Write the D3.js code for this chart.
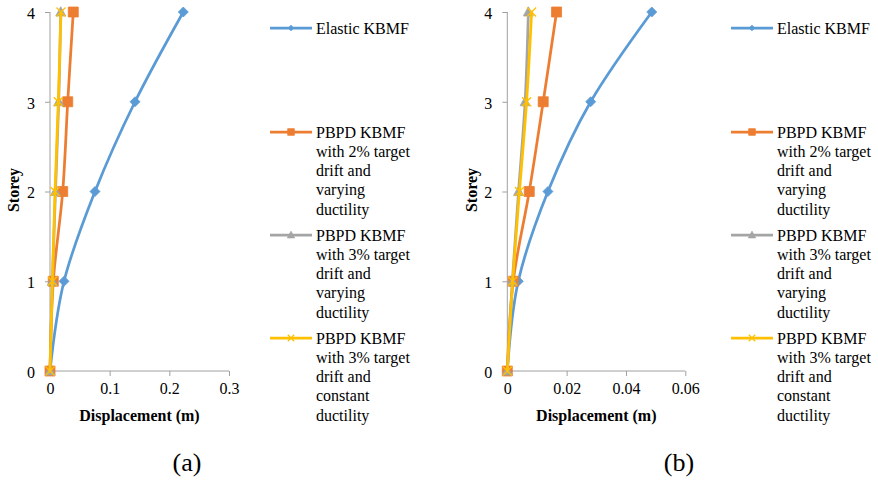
<!DOCTYPE html>
<html>
<head>
<meta charset="utf-8">
<script src="https://cdn.jsdelivr.net/npm/d3@7/dist/d3.min.js"></script>
<style>
  html, body { margin: 0; padding: 0; background: #fff; }
  svg { display: block; }
  svg text { font-family: "Liberation Serif", "Times New Roman", serif !important; fill: #000; }
</style>
</head>
<body>
<svg id="chart" width="878" height="481"></svg>
<script>
// ---- Data ----
const storeys = [0, 1, 2, 3, 4];
const seriesNames = [
  ["Elastic KBMF"],
  ["PBPD KBMF", "with 2% target", "drift and", "varying", "ductility"],
  ["PBPD KBMF", "with 3% target", "drift and", "varying", "ductility"],
  ["PBPD KBMF", "with 3% target", "drift and", "constant", "ductility"]
];
// Panel (a)
const aElastic    = [0, 0.0235, 0.0754, 0.1425, 0.2234];
const aPbpd2Var   = [0, 0.0055, 0.0213, 0.0297, 0.0390];
const aPbpd3Var   = [0, 0.0040, 0.0092, 0.0146, 0.0180];
const aPbpd3Const = [0, 0.0040, 0.0084, 0.0139, 0.0184];
const aXTicks = [0, 0.1, 0.2, 0.3];
// Panel (b)
const bElastic    = [0, 0.0037, 0.0137, 0.0281, 0.0487];
const bPbpd2Var   = [0, 0.0020, 0.0074, 0.0121, 0.0166];
const bPbpd3Var   = [0, 0.0017, 0.0038, 0.0060, 0.0071];
const bPbpd3Const = [0, 0.0018, 0.0041, 0.0065, 0.0082];
const bXTicks = [0, 0.02, 0.04, 0.06];
const yTicks = [0, 1, 2, 3, 4];

const colors = ["#5B9BD5", "#ED7D31", "#A5A5A5", "#FFC000"];
const markers = ["diamond", "square", "triangle", "cross"];

// ---- Layout ----
const FONT = "'Liberation Serif', 'Times New Roman', serif";
const panels = [
  { label: "(a)", data: [aElastic, aPbpd2Var, aPbpd3Var, aPbpd3Const], xTicks: aXTicks,
    x0: 50, x1: 229, legendX: 270, labelX: 187, storeyX: 19 },
  { label: "(b)", data: [bElastic, bPbpd2Var, bPbpd3Var, bPbpd3Const], xTicks: bXTicks,
    x0: 507.3, x1: 685.3, legendX: 731, labelX: 679, storeyX: 477 }
];
const yTop = 12, yBot = 371;
const axisColor = "#A0A0A0";

const svg = d3.select("#chart");
svg.append("rect").attr("width", 878).attr("height", 481).attr("fill", "#fff");

function markerPath(type, s) {
  switch (type) {
    case "diamond": return `M0,${-s}L${s},0L0,${s}L${-s},0Z`;
    case "square": return `M${-s},${-s}H${s}V${s}H${-s}Z`;
    case "triangle": return `M0,${-s * 1.05}L${s},${s * 0.8}L${-s},${s * 0.8}Z`;
    case "cross": return `M${-s},${-s}L${s},${s}M${s},${-s}L${-s},${s}`;
  }
}

function drawMarker(g, type, color, x, y, s) {
  const p = g.append("path").attr("d", markerPath(type, s))
    .attr("transform", `translate(${x},${y})`);
  if (type === "cross") {
    p.attr("fill", "none").attr("stroke", color).attr("stroke-width", 1.3);
  } else {
    p.attr("fill", color).attr("stroke", color).attr("stroke-width", 0.8);
  }
}

panels.forEach(P => {
  const x = d3.scaleLinear().domain([P.xTicks[0], P.xTicks[P.xTicks.length - 1]]).range([P.x0, P.x1]);
  const y = d3.scaleLinear().domain([0, 4]).range([yBot, yTop]);
  const g = svg.append("g");

  // axes
  const xAxis = d3.axisBottom(x).tickValues(P.xTicks).tickSize(5).tickPadding(7)
    .tickFormat(d => d === 0 ? "0" : String(+d.toFixed(4)));
  const gx = g.append("g").attr("transform", `translate(0,${yBot})`).call(xAxis);
  const yAxis = d3.axisLeft(y).tickValues(yTicks).tickSize(5).tickPadding(10).tickFormat(d3.format("d"));
  const gy = g.append("g").attr("transform", `translate(${P.x0},0)`).call(yAxis);
  [gx, gy].forEach(a => {
    a.attr("font-family", FONT).attr("font-size", 16);
    a.select(".domain").attr("stroke", axisColor).attr("stroke-width", 1)
      .attr("d", a === gx ? `M${P.x0},0H${P.x1}` : `M0,${yBot}V${yTop}`);
    a.selectAll(".tick line").attr("stroke", axisColor);
    a.selectAll(".tick text").style("font-family", FONT)
      .style("font-size", "16px").attr("fill", "#000");
  });
  gy.selectAll(".tick text").attr("dy", "0.4em");

  // series
  const line = d3.line().x(d => x(d[0])).y(d => y(d[1])).curve(d3.curveCardinal.tension(0));
  P.data.forEach((vals, i) => {
    const pts = vals.map((v, k) => [v, storeys[k]]);
    g.append("path").datum(pts).attr("d", line)
      .attr("fill", "none").attr("stroke", colors[i]).attr("stroke-width", 2.75)
      .attr("stroke-linejoin", "round").attr("stroke-linecap", "round");
    pts.forEach(p => drawMarker(g, markers[i], colors[i], x(p[0]), y(p[1]), markers[i] === "cross" ? 4.5 : 5));
  });

  // axis titles
  g.append("text").attr("x", (P.x0 + P.x1) / 2).attr("y", 421)
    .attr("text-anchor", "middle").style("font-family", FONT).style("font-size", "16px").style("font-weight", "bold")
    .text("Displacement (m)");
  g.append("text").attr("transform", `translate(${P.storeyX},190) rotate(-90)`)
    .attr("text-anchor", "middle").style("font-family", FONT).style("font-size", "16px").style("font-weight", "bold")
    .text("Storey");
  g.append("text").attr("x", P.labelX).attr("y", 471).attr("text-anchor", "middle")
    .style("font-family", FONT).style("font-size", "26px").text(P.label);

  // legend
  const legY = [28, 132, 235, 338];
  seriesNames.forEach((lines, i) => {
    const ly = legY[i];
    g.append("line").attr("x1", P.legendX).attr("x2", P.legendX + 42)
      .attr("y1", ly).attr("y2", ly).attr("stroke", colors[i]).attr("stroke-width", 2.75);
    drawMarker(g, markers[i], colors[i], P.legendX + 21, ly,
      markers[i] === "diamond" ? 2.8 : markers[i] === "square" ? 3.3 : markers[i] === "cross" ? 3.2 : 3.6);
    const t = g.append("text").attr("x", P.legendX + 46).attr("y", ly + 5.5)
      .style("font-family", FONT).style("font-size", "16px");
    lines.forEach((s, k) => {
      t.append("tspan").attr("x", P.legendX + 46).attr("dy", k === 0 ? 0 : 19.3).text(s);
    });
  });
});
</script>
</body>
</html>
